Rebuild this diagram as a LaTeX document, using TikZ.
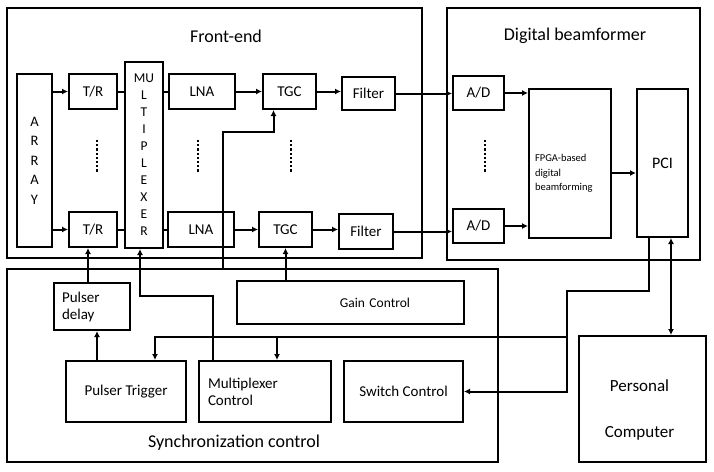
\documentclass[tikz,border=0pt]{standalone}
\usepackage{fontspec}
\setmainfont{Carlito}
\usetikzlibrary{arrows.meta}

\tikzset{
  blk/.style={draw,rectangle,inner sep=0pt,font=\fontsize{15}{17}\selectfont},
  ttl/.style={font=\fontsize{18}{20}\selectfont},
  arr/.style={-{Latex[length=6pt,width=6pt]}},
  dots/.style={dotted,line width=2.2pt}
}

\begin{document}
\begin{tikzpicture}[x=1pt,y=-1pt,line width=2pt]
  \useasboundingbox (0,0) rectangle (714,471);
  % outer boxes
  \node[draw,minimum width=415,minimum height=250] (fe)   at (214.5,133) {};
  \node[draw,minimum width=253,minimum height=252] (db)   at (573.5,134) {};
  \node[draw,minimum width=491,minimum height=193] (sync) at (252.5,365.5) {};
  \node[ttl] (fetitle)   at (226,36)  {Front-end};
  \node[ttl] (dbtitle)   at (575,36)  {Digital beamformer};
  \node[ttl] (synctitle) at (234,443) {Synchronization control};

  % front-end
  \node[blk,minimum width=35,minimum height=173,align=center,font=\fontsize{14.5}{19.5}\selectfont] (array) at (34.5,160.5) {A\\R\\R\\A\\Y};
  \node[blk,minimum width=48,minimum height=35] (tr1) at (93,91.5)  {T/R};
  \node[blk,minimum width=48,minimum height=35] (tr2) at (93,229.5) {T/R};
  \node[blk,minimum width=38,minimum height=186,align=center,font=\fontsize{13.5}{17}\selectfont] (mux) at (144,155) {MU\\L\\T\\I\\P\\L\\E\\X\\E\\R};
  \node[blk,minimum width=66,minimum height=35] (lna1) at (202,91.5)  {LNA};
  \node[blk,minimum width=66,minimum height=35] (lna2) at (201,229.5) {LNA};
  \node[blk,minimum width=53,minimum height=35] (tgc1) at (289.5,91.5)  {TGC};
  \node[blk,minimum width=53,minimum height=35] (tgc2) at (285.5,229.5) {TGC};
  \node[blk,minimum width=53,minimum height=33] (fil1) at (368.5,93.5) {Filter};
  \node[blk,minimum width=54,minimum height=35] (fil2) at (366,231.5)  {Filter};

  % beamformer
  \node[blk,minimum width=51,minimum height=34] (ad1) at (478.5,93)  {A/D};
  \node[blk,minimum width=51,minimum height=34] (ad2) at (478.5,226) {A/D};
  \node[blk,minimum width=82,minimum height=149] (fpga) at (570,163.5) {};
  \node[anchor=west,align=left,inner sep=0pt,font=\fontsize{10.5}{14.5}\selectfont] (fpgatext) at ([xshift=6pt,yshift=-10pt]fpga.west) {FPGA-based\\digital\\beamforming};
  \node[blk,minimum width=51,minimum height=148,font=\fontsize{16}{18}\selectfont] (pci) at (662.5,163) {PCI};

  % synchronization
  \node[blk,text width=60,inner xsep=8,align=left,minimum height=47] (pdelay) at (92,306.5) {Pulser\\delay};
  \node[blk,text width=119,inner xsep=54,align=right,minimum height=43,font=\fontsize{13.5}{15}\selectfont] (gain) at (350.5,302.5) {Gain Control};
  \node[blk,minimum width=120,minimum height=61] (ptrig) at (126,391.5) {Pulser Trigger};
  \node[blk,text width=114,inner xsep=9,align=left,minimum height=61] (mctrl) at (265,391.5) {Multiplexer\\Control};
  \node[blk,minimum width=119,minimum height=61] (sw) at (403.5,391.5) {Switch Control};

  % computer
  \node[draw,minimum width=127,minimum height=126] (pc) at (642.5,399) {};
  \node[align=center,font=\fontsize{17}{46}\selectfont] (pctext) at ([xshift=-3pt,yshift=-11pt]pc.center) {Personal\\Computer};

  % dotted channels
  \draw[dots] (97,140) -- (97,172);
  \draw[dots] (198,140) -- (198,172);
  \draw[dots] (291,140) -- (291,172);
  \draw[dots] (485,140) -- (485,172);

  % helper points
  \coordinate (bus) at (567,337);
  \coordinate (gtap) at (223,269);
  \coordinate (pd1) at ([xshift=5pt]pdelay.south);
  \coordinate (pd2) at ([xshift=-4pt]pdelay.north);
  \coordinate (mc1) at ([xshift=-52pt]mctrl.north);
  \coordinate (mc2) at ([xshift=12pt]mctrl.north);
  \coordinate (pc1) at ([xshift=8.5pt]pci.south);

  % signal path
  \path[arr]
    (array.east |- tr1) edge (tr1.west)
    (array.east |- tr2) edge (tr2.west)
    (lna1) edge (tgc1)
    (lna2) edge (tgc2)
    (tgc1.east) edge (tgc1.east -| fil1.west)
    (tgc2.east) edge (tgc2.east -| fil2.west)
    (fil1.east) edge (fil1.east -| ad1.west)
    (fil2.east) edge (fil2.east -| ad2.west)
    (ad1.east) edge (ad1.east -| fpga.west)
    (ad2.east) edge (ad2.east -| fpga.west)
    (fpga.east |- 0,173) edge (pci.west |- 0,173);
  \draw (tr1.east) -- (tr1.east -| mux.west);
  \draw (tr2.east) -- (tr2.east -| mux.west);
  \draw (mux.east |- lna1) -- (lna1.west);
  \draw (mux.east |- lna2) -- (lna2.west);

  % control lines
  \path[arr]
    (pd1 |- ptrig.north) edge (pd1)
    (pd2) edge (pd2 |- tr2.south)
    (tgc2.south |- gain.north) edge (tgc2.south)
    (mc2 |- bus) edge (mc2);
  \draw[arr] (mc1) -- ++(0,-64) -| ([xshift=-4pt]mux.south);
  \draw[arr] (gtap) -- ++(0,-137) -| ([xshift=-16pt]tgc1.south);
  \draw[arr] ([xshift=-13.5pt]pci.south) -- ++(0,53) -| (bus) |- (sw.east);
  \draw[arr] (bus) -| ([xshift=29pt]ptrig.north);
  \draw[{Latex[length=6pt,width=6pt]}-{Latex[length=6pt,width=6pt]}] (pc1) -- (pc1 |- pc.north);
\end{tikzpicture}
\end{document}
